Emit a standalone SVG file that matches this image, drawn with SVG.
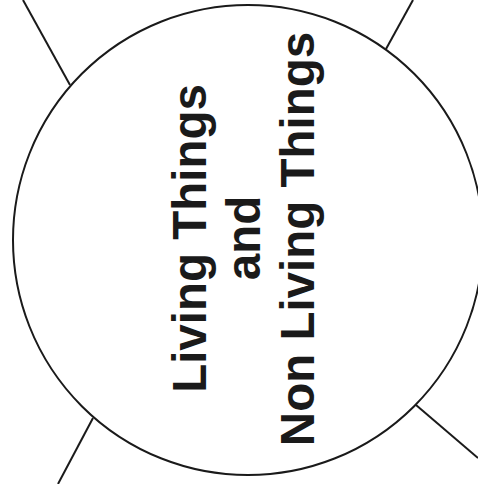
<svg xmlns="http://www.w3.org/2000/svg" width="478" height="484" viewBox="0 0 478 484">
<style>
.ln{stroke:#1a1a1a;stroke-width:2;fill:none}
.t{font-family:"Liberation Sans",Arial,sans-serif;font-weight:bold;fill:#1a1a1a;text-anchor:middle;font-size:47.5px}
</style>
<rect width="478" height="484" fill="#fff"/>
<g id="connectors">
<line class="ln" x1="70" y1="85" x2="23" y2="0"/>
<line class="ln" x1="386" y1="49" x2="413" y2="0"/>
<line class="ln" x1="93" y1="418" x2="58" y2="484"/>
<line class="ln" x1="416" y1="405" x2="478" y2="458"/>
</g>
<g id="center">
<circle class="ln" cx="248" cy="240" r="235"/>
<g transform="rotate(-90)">
<text class="t" x="-238.5" y="205.5">Living Things</text>
<text class="t" x="-238" y="260">and</text>
<text class="t" x="-239" y="314">Non Living Things</text>
</g>
</g>
</svg>
